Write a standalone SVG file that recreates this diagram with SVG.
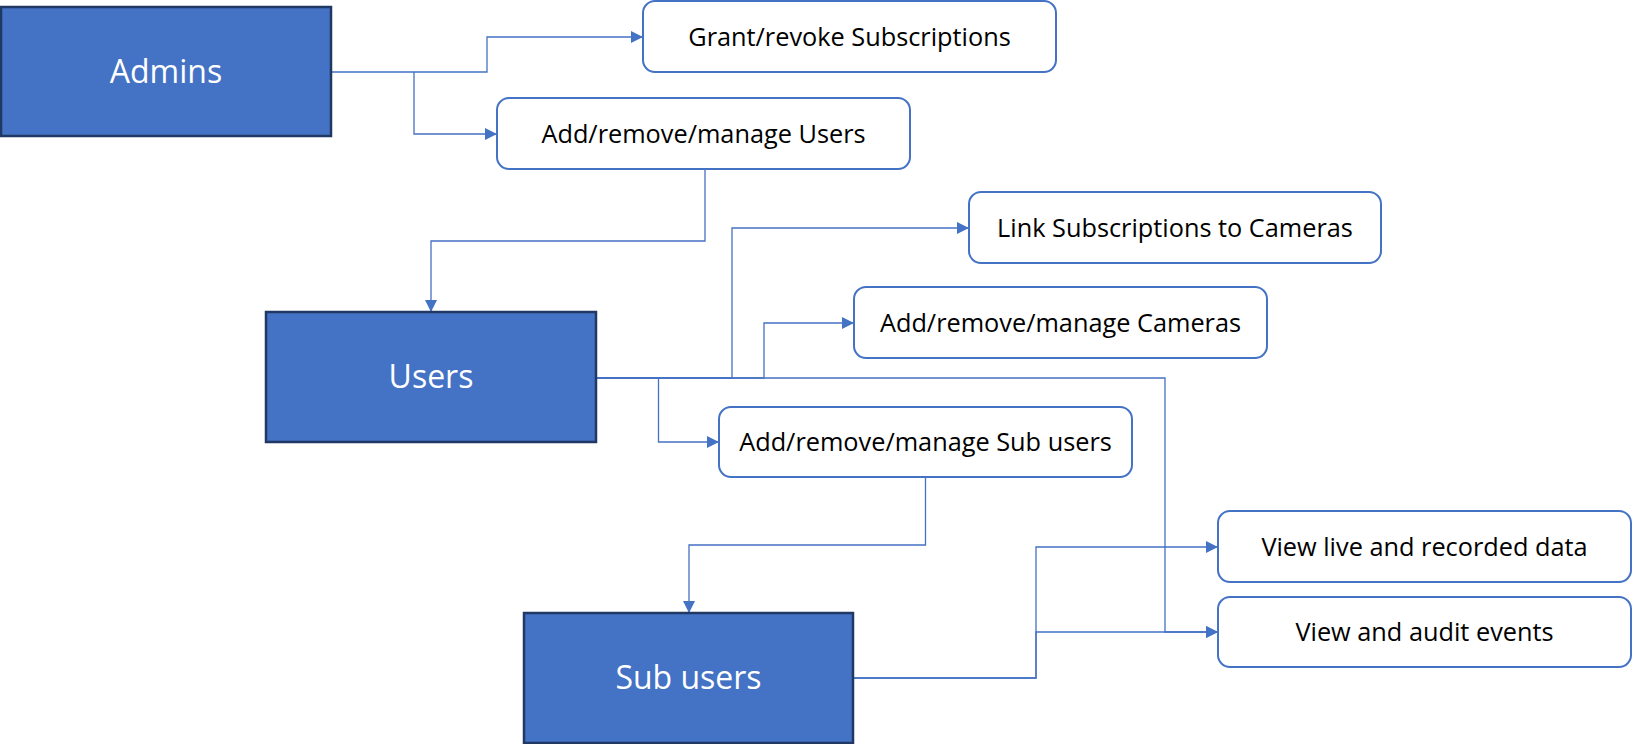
<svg xmlns="http://www.w3.org/2000/svg" width="1633" height="744" viewBox="0 0 1633 744">
<style>
.big rect{fill:#4472C4;stroke:#1F3864;stroke-width:2.5}
.big text{fill:#FFFFFF;font-family:"Open Sans","Noto Sans",sans-serif;font-size:32px;text-anchor:middle}
.act rect{fill:#FFFFFF;stroke:#4472C4;stroke-width:2}
.act text{fill:#000000;font-family:"Open Sans","Noto Sans",sans-serif;font-size:25.3px;text-anchor:middle}
#connectors path{fill:none;stroke:#4472C4;stroke-width:1.3;marker-end:url(#arr)}
</style>
<defs>
<marker id="arr" markerUnits="userSpaceOnUse" markerWidth="12" markerHeight="12" viewBox="0 0 10 10" refX="10" refY="5" orient="auto">
<path d="M0,0 L10,5 L0,10 z" fill="#4472C4"/>
</marker>
</defs>
<rect width="1633" height="744" fill="#FFFFFF"/>
<g id="connectors">
<path d="M331 72 H487 V37 H643"/>
<path d="M414 72 V134 H497"/>
<path d="M705 169 V241 H431 V312"/>
<path d="M596 378 H732 V228 H969"/>
<path d="M596 378 H764 V323 H854"/>
<path d="M596 378 H658.5 V442 H719"/>
<path d="M596 378 H1165 V632 H1218"/>
<path d="M925.5 477 V545 H689 V613"/>
<path d="M853 678 H1036 V547 H1218"/>
<path d="M853 678 H1036 V632 H1218"/>
</g>
<g id="admins" class="big"><rect x="1" y="7" width="330" height="129"/><text x="166" y="83">Admins</text></g>
<g id="users" class="big"><rect x="266" y="312" width="330" height="130"/><text x="431" y="388">Users</text></g>
<g id="subusers" class="big"><rect x="524" y="613" width="329" height="130"/><text x="688.5" y="689">Sub users</text></g>
<g id="grant" class="act"><rect x="643" y="1" width="413" height="71" rx="12"/><text x="849.5" y="46">Grant/revoke Subscriptions</text></g>
<g id="manageusers" class="act"><rect x="497" y="98" width="413" height="71" rx="12"/><text x="703.5" y="143">Add/remove/manage Users</text></g>
<g id="link" class="act"><rect x="969" y="192" width="412" height="71" rx="12"/><text x="1175" y="237">Link Subscriptions to Cameras</text></g>
<g id="cameras" class="act"><rect x="854" y="287" width="413" height="71" rx="12"/><text x="1060.5" y="332">Add/remove/manage Cameras</text></g>
<g id="managesub" class="act"><rect x="719" y="407" width="413" height="70" rx="12"/><text x="925.5" y="451">Add/remove/manage Sub users</text></g>
<g id="viewlive" class="act"><rect x="1218" y="511" width="413" height="71" rx="12"/><text x="1424.5" y="556">View live and recorded data</text></g>
<g id="viewaudit" class="act"><rect x="1218" y="597" width="413" height="70" rx="12"/><text x="1424.5" y="641">View and audit events</text></g>
</svg>
